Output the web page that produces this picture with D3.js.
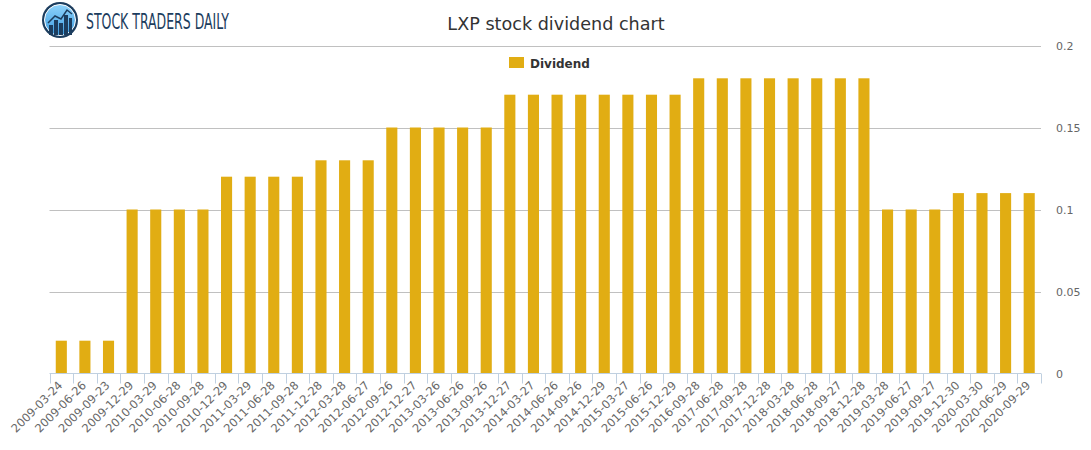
<!DOCTYPE html>
<html><head><meta charset="utf-8">
<script src="https://cdn.jsdelivr.net/npm/d3@7"></script>
<style>body{margin:0;background:#fff;}svg{display:block;font-family:"DejaVu Sans",sans-serif;}</style>
</head><body><svg id="c" width="1091" height="450"></svg>
<script>
const dates = ["2009-03-24","2009-06-26","2009-09-23","2009-12-29","2010-03-29","2010-06-28","2010-09-28","2010-12-29","2011-03-29","2011-06-28","2011-09-28","2011-12-28","2012-03-28","2012-06-27","2012-09-26","2012-12-27","2013-03-26","2013-06-26","2013-09-26","2013-12-27","2014-03-27","2014-06-26","2014-09-26","2014-12-29","2015-03-27","2015-06-26","2015-12-29","2016-09-28","2017-06-28","2017-09-28","2017-12-28","2018-03-28","2018-06-28","2018-09-27","2018-12-28","2019-03-28","2019-06-27","2019-09-27","2019-12-30","2020-03-30","2020-06-29","2020-09-29"];
const dividend = [0.02,0.02,0.02,0.1,0.1,0.1,0.1,0.12,0.12,0.12,0.12,0.13,0.13,0.13,0.15,0.15,0.15,0.15,0.15,0.17,0.17,0.17,0.17,0.17,0.17,0.17,0.17,0.18,0.18,0.18,0.18,0.18,0.18,0.18,0.18,0.1,0.1,0.1,0.11,0.11,0.11,0.11];
const yTicks = [0,0.05,0.1,0.15,0.2];
const yTickLabels = ["0","0.05","0.1","0.15","0.2"];
const title = "LXP stock dividend chart";
const seriesName = "Dividend";

const svg = d3.select("#c");
const x = d3.scaleBand().domain(dates).range([49.5,1041]).paddingInner(0.53).paddingOuter(0.265);
const y = d3.scaleLinear().domain([0,0.2]).range([373.5,45.5]);

// gridlines
svg.append("g").selectAll("line").data(yTicks.filter(d=>d>0)).join("line")
  .attr("x1",49.5).attr("x2",1041).attr("y1",d=>Math.round(y(d))+0.5).attr("y2",d=>Math.round(y(d))+0.5)
  .attr("stroke","#c0c0c0").attr("stroke-width",1);

// y labels
svg.append("g").selectAll("text").data(yTicks).join("text")
  .attr("x",1056).attr("y",d=>y(d)+4).attr("font-size",11).attr("fill","#666")
  .text((d,i)=>yTickLabels[i]);

// bars
svg.append("g").selectAll("rect").data(dates).join("rect")
  .attr("x",d=>x(d)).attr("width",x.bandwidth())
  .attr("y",(d,i)=>y(dividend[i])).attr("height",(d,i)=>y(0)-y(dividend[i]))
  .attr("fill","#e1ad13");

// x axis
const xa = svg.append("g");
xa.append("line").attr("x1",49.5).attr("x2",1041).attr("y1",373.5).attr("y2",373.5).attr("stroke","#c0d0e0");
const step = x.step();
const edges = dates.map((d,i)=>49.5+i*step).concat([1041]);
xa.selectAll("line.t").data(edges).join("line").attr("class","t")
  .attr("x1",d=>Math.round(d)+0.5).attr("x2",d=>Math.round(d)+0.5).attr("y1",373.5).attr("y2",383.5).attr("stroke","#c0d0e0");
xa.selectAll("text").data(dates).join("text")
  .attr("transform",d=>`translate(${x(d)+x.bandwidth()/2+2},${386}) rotate(-45)`)
  .attr("text-anchor","end").attr("font-size",11.5).attr("fill","#666").text(d=>d);

// title
svg.append("text").attr("x",556).attr("y",30).attr("text-anchor","middle").attr("font-size",17.6).attr("fill","#333").text(title);

// legend
svg.append("rect").attr("x",509).attr("y",57).attr("width",15).attr("height",11).attr("fill","#e1ad13");
svg.append("text").attr("x",530).attr("y",67.5).attr("font-size",12).attr("font-weight","bold").attr("fill","#333").text(seriesName);

// logo
const lg = svg.append("g");
const grad = svg.append("defs").append("linearGradient").attr("id","lgg").attr("x1",0).attr("y1",0).attr("x2",0).attr("y2",1);
grad.append("stop").attr("offset","0").attr("stop-color","#8fd3fb");
grad.append("stop").attr("offset","1").attr("stop-color","#3a9be0");
lg.append("circle").attr("cx",60).attr("cy",20).attr("r",18).attr("fill","#1c3d5e");
lg.append("circle").attr("cx",60).attr("cy",20).attr("r",15.5).attr("fill","url(#lgg)");
lg.append("circle").attr("cx",60).attr("cy",20).attr("r",15.5).attr("fill","none").attr("stroke","#fff").attr("stroke-width",1);
[[49,25,4],[54,20,4],[59,23,4],[64,15,4],[69,18,3]].forEach(b=>{
  lg.append("rect").attr("x",b[0]).attr("y",b[1]).attr("width",b[2]).attr("height",35-b[1]).attr("fill","#1c3d5e");
});
lg.append("polyline").attr("points","48,23 55,16 61,19 67,10 72,14").attr("fill","none").attr("stroke","#1c3d5e").attr("stroke-width",1.5);
lg.append("text").attr("x",86).attr("y",29).attr("font-family","'Liberation Sans Narrow','DejaVu Sans Condensed',sans-serif")
  .attr("font-size",21).attr("fill","#1c3d5e").attr("textLength",143).attr("lengthAdjust","spacingAndGlyphs").text("STOCK TRADERS DAILY");
</script></body></html>
